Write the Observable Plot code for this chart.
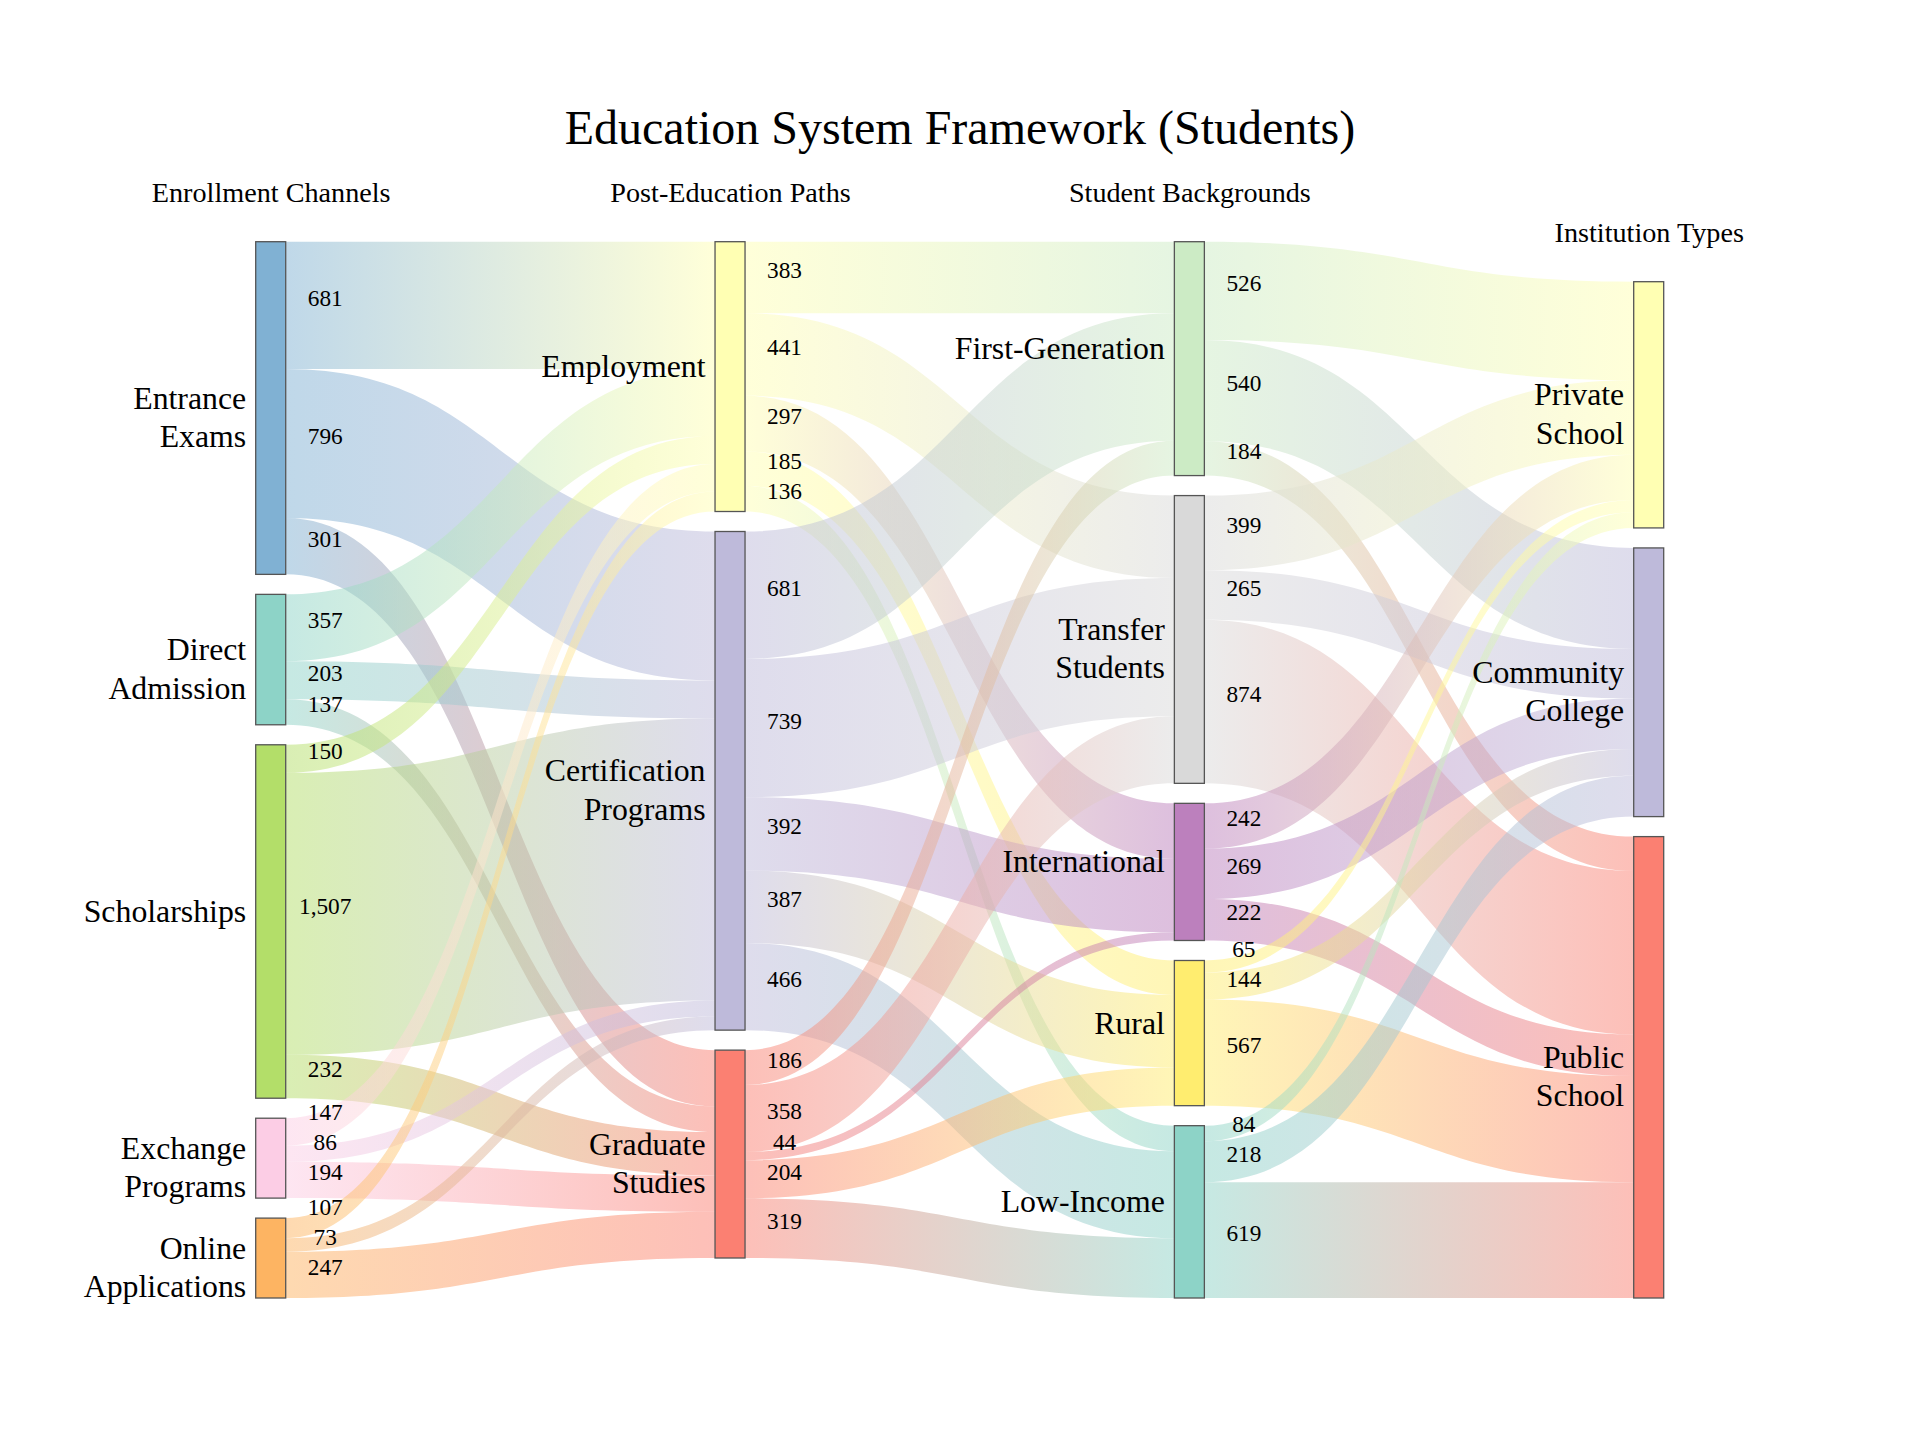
<!DOCTYPE html>
<html>
<head>
<meta charset="utf-8">
<script src="https://cdn.jsdelivr.net/npm/d3@7"></script>
<script src="https://cdn.jsdelivr.net/npm/@observablehq/plot@0.6"></script>
<style>
  html, body { margin: 0; padding: 0; background: #fff; overflow: hidden; }
  #wrap { position: relative; width: 1920px; height: 1440px; background: #fff; }
  #title { position: absolute; left: 0; top: 104px; width: 1920px; text-align: center;
           font-family: 'Liberation Serif', 'Times New Roman', serif; font-size: 48px;
           line-height: 48px; color: #000; }
  #chart { position: absolute; left: 0; top: 170px; }
</style>
</head>
<body>
<div id="wrap">
  <div id="title">Education System Framework (Students)</div>
  <div id="chart"></div>
</div>
<script>
// ---------- data ----------
const columnTitles = ["Enrollment Channels", "Post-Education Paths", "Student Backgrounds", "Institution Types"];
const columnAlign = ["top", "top", "top", "bottom"];

const enrollmentChannels = ["Entrance Exams", "Direct Admission", "Scholarships", "Exchange Programs", "Online Applications"];
const postEducationPaths = ["Employment", "Certification Programs", "Graduate Studies"];
const studentBackgrounds = ["First-Generation", "Transfer Students", "International", "Rural", "Low-Income"];
const institutionTypes = ["Private School", "Community College", "Public School"];

const nodeColors = {
  "Entrance Exams": "#80b1d3", "Direct Admission": "#8dd3c7", "Scholarships": "#b3de69",
  "Exchange Programs": "#fccde5", "Online Applications": "#fdb462",
  "Employment": "#ffffb3", "Certification Programs": "#bebada", "Graduate Studies": "#fb8072",
  "First-Generation": "#ccebc5", "Transfer Students": "#d9d9d9", "International": "#bc80bd",
  "Rural": "#ffed6f", "Low-Income": "#8dd3c7",
  "Private School": "#ffffb3", "Community College": "#bebada", "Public School": "#fb8072"
};

const linkSources = [
  "Entrance Exams", "Entrance Exams", "Entrance Exams",
  "Direct Admission", "Direct Admission", "Direct Admission",
  "Scholarships", "Scholarships", "Scholarships",
  "Exchange Programs", "Exchange Programs", "Exchange Programs",
  "Online Applications", "Online Applications", "Online Applications",
  "Employment", "Employment", "Employment", "Employment", "Employment",
  "Certification Programs", "Certification Programs", "Certification Programs", "Certification Programs", "Certification Programs",
  "Graduate Studies", "Graduate Studies", "Graduate Studies", "Graduate Studies", "Graduate Studies",
  "First-Generation", "First-Generation", "First-Generation",
  "Transfer Students", "Transfer Students", "Transfer Students",
  "International", "International", "International",
  "Rural", "Rural", "Rural",
  "Low-Income", "Low-Income", "Low-Income"
];
const linkTargets = [
  "Employment", "Certification Programs", "Graduate Studies",
  "Employment", "Certification Programs", "Graduate Studies",
  "Employment", "Certification Programs", "Graduate Studies",
  "Employment", "Certification Programs", "Graduate Studies",
  "Employment", "Certification Programs", "Graduate Studies",
  "First-Generation", "Transfer Students", "International", "Rural", "Low-Income",
  "First-Generation", "Transfer Students", "International", "Rural", "Low-Income",
  "First-Generation", "Transfer Students", "International", "Rural", "Low-Income",
  "Private School", "Community College", "Public School",
  "Private School", "Community College", "Public School",
  "Private School", "Community College", "Public School",
  "Private School", "Community College", "Public School",
  "Private School", "Community College", "Public School"
];
const linkValues = [
  681, 796, 301,
  357, 203, 137,
  150, 1507, 232,
  147, 86, 194,
  107, 73, 247,
  383, 441, 297, 185, 136,
  681, 739, 392, 387, 466,
  186, 358, 44, 204, 319,
  526, 540, 184,
  399, 265, 874,
  242, 269, 222,
  65, 144, 567,
  84, 218, 619
];

// ---------- geometry options ----------
const W = 1920, H = 1270;
const colLeftPx = [255.7, 1633.7];
const plotTopPx = 71.7, plotBottomPx = 1128;
const nodeWidthPx = 30, nodePadPx = 20;
const labelMinGapPx = 30;
const FONT = "'Liberation Serif', 'Times New Roman', Times, serif";
const nodeFontSize = 31.8, nodeLineHeight = 1.21;
const linkFontSize = 23.3, headerFontSize = 28.2;

// ---------- sankey layout (in data units) ----------
const stages = [enrollmentChannels, postEducationPaths, studentBackgrounds, institutionTypes];
const nodes = stages.flatMap((names, col) => names.map((name, row) => ({name, col, row, color: nodeColors[name], inV: 0, outV: 0})));
const byName = new Map(nodes.map(n => [n.name, n]));
const links = linkValues.map((value, i) => ({i, source: byName.get(linkSources[i]), target: byName.get(linkTargets[i]), value}));
links.forEach(l => { l.source.outV += l.value; l.target.inV += l.value; });
nodes.forEach(n => n.value = Math.max(n.inV, n.outV));

const spanPx = plotBottomPx - plotTopPx;
const colStats = stages.map((names, col) => {
  const ns = nodes.filter(n => n.col === col);
  return {col, n: ns.length, sum: d3.sum(ns, d => d.value), nodes: ns};
});
const Ymax = d3.max(colStats, c => c.sum / (1 - (c.n - 1) * nodePadPx / spanPx));
const pxPerUnit = spanPx / Ymax;
const gapU = nodePadPx / pxPerUnit;
const xUnitPx = (colLeftPx[1] - colLeftPx[0]) / (stages.length - 1);
const nodeWu = nodeWidthPx / xUnitPx;

colStats.forEach(c => {
  const total = c.sum + (c.n - 1) * gapU;
  let y = columnAlign[c.col] === "bottom" ? Ymax - total : 0;
  c.top = y;
  c.nodes.forEach(n => { n.y0 = y; n.y1 = y + n.value; y = n.y1 + gapU; });
});

nodes.forEach(n => {
  const outs = links.filter(l => l.source === n).sort((a, b) => a.target.y0 - b.target.y0);
  let y = n.y0;
  outs.forEach(l => { l.sy0 = y; y += l.value; l.sy1 = y; l.labelY = (l.sy0 + l.sy1) / 2; });
  // keep value labels of one node apart: push the upper label up when too close
  const minGapU = labelMinGapPx / pxPerUnit;
  for (let k = outs.length - 2; k >= 0; --k) {
    if (outs[k + 1].labelY - outs[k].labelY < minGapU) outs[k].labelY = outs[k + 1].labelY - minGapU;
  }
  const ins = links.filter(l => l.target === n).sort((a, b) => a.source.y0 - b.source.y0);
  y = n.y0;
  ins.forEach(l => { l.ty0 = y; y += l.value; l.ty1 = y; });
});

const headers = colStats.map(c => ({col: c.col, top: c.top, title: columnTitles[c.col]}));
const fmt = d3.format(",");

// gradient definitions (one per link, source colour -> target colour)
const gradientDefs = () => {
  const defs = d3.create("svg:defs");
  links.forEach(l => {
    const g = defs.append("linearGradient").attr("id", `lg${l.i}`)
      .attr("x1", "0%").attr("x2", "100%").attr("y1", "0%").attr("y2", "0%");
    g.append("stop").attr("offset", "0%").attr("stop-color", l.source.color);
    g.append("stop").attr("offset", "100%").attr("stop-color", l.target.color);
  });
  return defs.node();
};

const linkMarks = links.map(l => Plot.areaY(
  [
    {x: l.source.col + nodeWu, y1: l.sy0, y2: l.sy1},
    {x: l.target.col, y1: l.ty0, y2: l.ty1}
  ],
  {x: "x", y1: "y1", y2: "y2", curve: "bump-x", fill: `url(#lg${l.i})`, fillOpacity: 0.5}
));

const chart = Plot.plot({
  width: W,
  height: H,
  margin: 0,
  x: {domain: [0, stages.length - 1], range: colLeftPx, axis: null},
  y: {domain: [0, Ymax], range: [plotTopPx, plotBottomPx], axis: null},
  color: {type: "identity"},
  style: {fontFamily: FONT, background: "white", color: "black", overflow: "visible"},
  marks: [
    gradientDefs,
    ...linkMarks,
    Plot.rect(nodes, {
      x1: d => d.col, x2: d => d.col + nodeWu, y1: "y0", y2: "y1",
      fill: "color", stroke: "#555", strokeWidth: 1.3
    }),
    Plot.text(nodes, {
      x: d => d.col, y: d => (d.y0 + d.y1) / 2,
      text: d => d.name.replace(" ", "\n"),
      textAnchor: "end", dx: -10,
      lineAnchor: "top", lineHeight: nodeLineHeight,
      dy: -0.71 * nodeLineHeight * nodeFontSize,
      fontSize: nodeFontSize, fill: "black", fontFamily: FONT
    }),
    Plot.text(links, {
      x: d => d.source.col + nodeWu, y: "labelY",
      text: d => fmt(d.value), dx: 39, lineAnchor: "bottom",
      fontSize: linkFontSize, fill: "black", fontFamily: FONT
    }),
    Plot.text(headers, {
      x: d => d.col + nodeWu / 2, y: "top", text: "title",
      dy: -40, lineAnchor: "bottom",
      fontSize: headerFontSize, fill: "black", fontFamily: FONT
    })
  ]
});

document.getElementById("chart").appendChild(chart);
</script>
</body>
</html>
